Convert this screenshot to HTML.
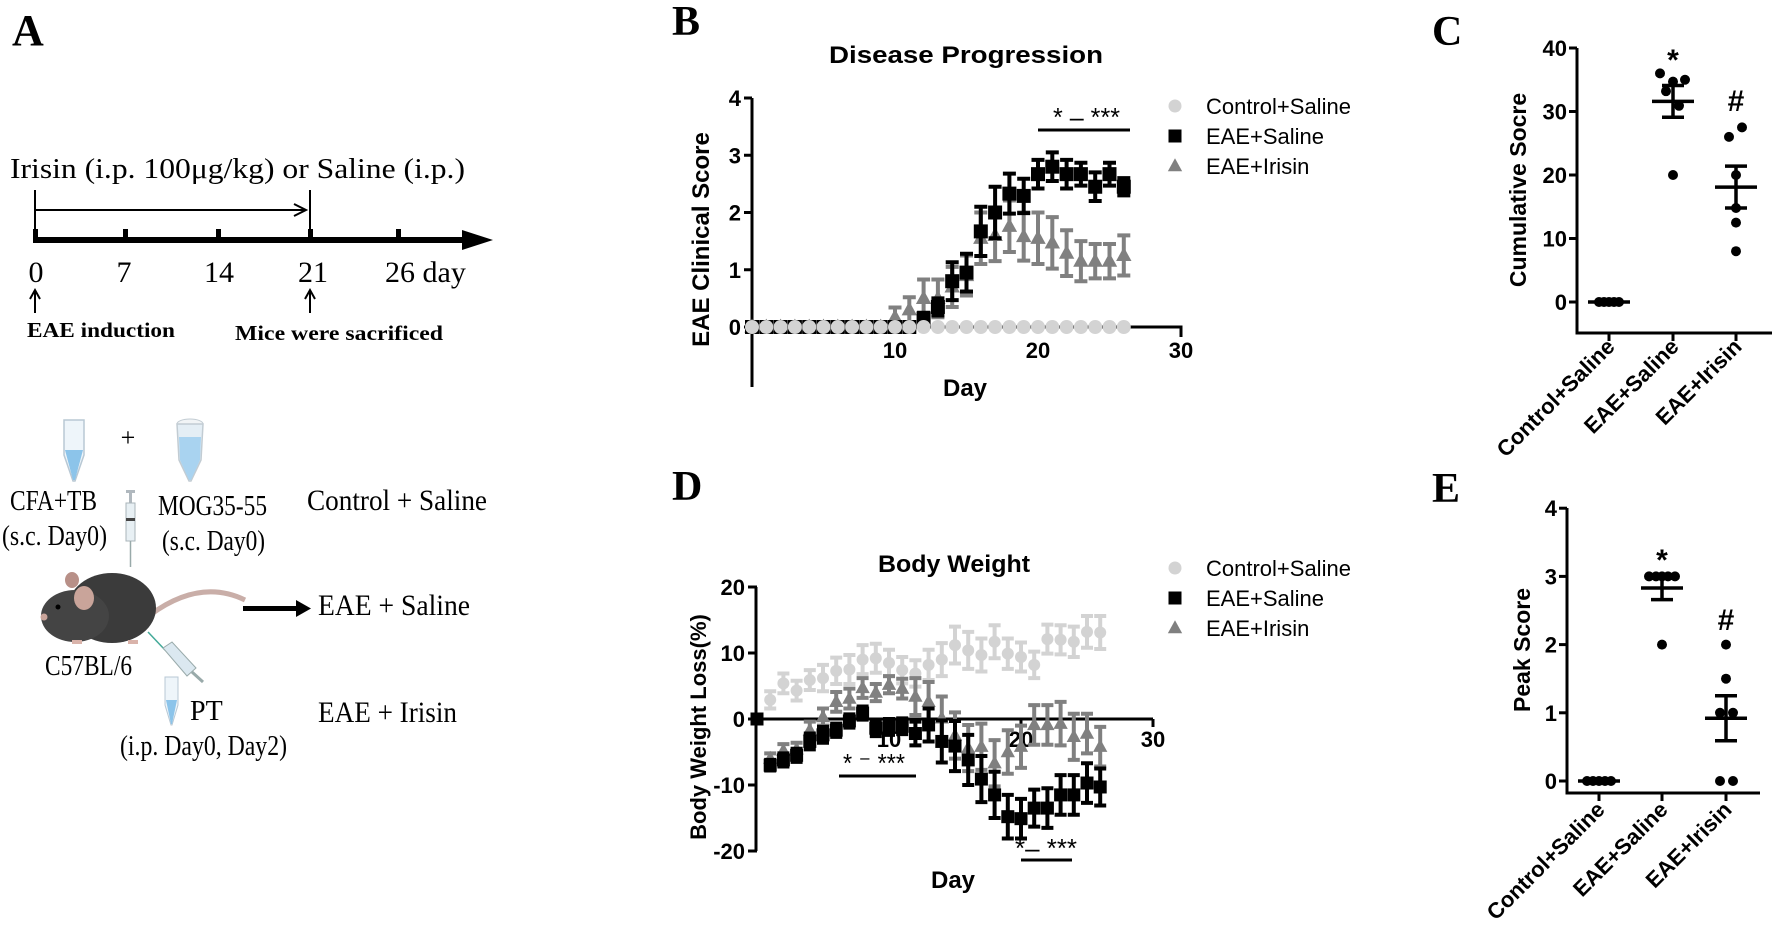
<!DOCTYPE html>
<html><head><meta charset="utf-8"><style>
html,body{margin:0;padding:0;background:#fff;}
svg{display:block;}
.serif{font-family:"Liberation Serif",serif;}
.sans{font-family:"Liberation Sans",sans-serif;}
</style></head><body>
<svg id="fig" width="1772" height="927" viewBox="0 0 1772 927" xmlns="http://www.w3.org/2000/svg">
<rect width="1772" height="927" fill="#fff"/>
<!-- Panel A -->
<g id="panelA" class="serif">
  <text x="12" y="45" font-size="44" font-weight="bold">A</text>
  <text x="10" y="178" font-size="29" textLength="455" lengthAdjust="spacingAndGlyphs">Irisin (i.p. 100μg/kg) or Saline (i.p.)</text>
  <g stroke="#000" stroke-width="2" fill="none">
    <line x1="35" y1="190" x2="35" y2="230"/><line x1="310" y1="190" x2="310" y2="235"/>
    <line x1="35" y1="210" x2="305" y2="210"/><path d="M294,204 L306,210 L294,216"/>
  </g>
  <g>
    <rect x="33" y="237" width="440" height="6" fill="#000"/>
    <path d="M462,230 L493,240 L462,250 Z" fill="#000"/>
    <rect x="33" y="229" width="5" height="10" fill="#000"/><rect x="123" y="229" width="5" height="10" fill="#000"/>
    <rect x="216" y="229" width="5" height="10" fill="#000"/><rect x="308" y="229" width="5" height="10" fill="#000"/>
    <rect x="396" y="229" width="5" height="10" fill="#000"/>
  </g>
  <g font-size="30">
    <text x="36" y="282" text-anchor="middle">0</text><text x="124" y="282" text-anchor="middle">7</text>
    <text x="219" y="282" text-anchor="middle">14</text><text x="313" y="282" text-anchor="middle">21</text>
    <text x="385" y="282">26 day</text>
  </g>
  <g stroke="#000" stroke-width="2" fill="none">
    <line x1="35" y1="292" x2="35" y2="313"/><path d="M30,299 L35,290 L40,299"/>
    <line x1="310" y1="292" x2="310" y2="313"/><path d="M305,299 L310,290 L315,299"/>
  </g>
  <text x="27" y="337" font-size="21" font-weight="bold" textLength="148" lengthAdjust="spacingAndGlyphs">EAE induction</text>
  <text x="235" y="340" font-size="21" font-weight="bold" textLength="208" lengthAdjust="spacingAndGlyphs">Mice were sacrificed</text>
  <g>
    <path d="M64,420 L84,420 L84,455 L75,481 L73,481 L64,455 Z" fill="#eef5fa" stroke="#b8c8d4" stroke-width="1.5"/>
    <path d="M65,450 L83,450 L75,480 L73,480 Z" fill="#8cc4ea"/>
  </g>
  <text x="128" y="446" font-size="26" text-anchor="middle">+</text>
  <g>
    <ellipse cx="190" cy="424" rx="13" ry="5" fill="#f1f4f6" stroke="#c2ccd3"/>
    <path d="M177,424 L203,424 L201,460 L191,481 L189,481 L179,460 Z" fill="#e4eef5" stroke="#c2ccd3" stroke-width="1.5"/>
    <path d="M179,437 L201,437 L200,460 L191,480 L189,480 L180,460 Z" fill="#a9d3f0"/>
  </g>
  <g>
    <rect x="126" y="490" width="9" height="3" fill="#b0b8be"/><rect x="129" y="493" width="3" height="10" fill="#b0b8be"/>
    <rect x="126" y="503" width="9" height="38" fill="#e8f0f4" stroke="#aab4ba"/>
    <rect x="126" y="518" width="9" height="3" fill="#444"/>
    <line x1="130.5" y1="541" x2="130.5" y2="567" stroke="#9aa" stroke-width="1.5"/>
  </g>
  <g font-size="28">
    <text x="10" y="510" textLength="87" lengthAdjust="spacingAndGlyphs">CFA+TB</text>
    <text x="2" y="545" textLength="105" lengthAdjust="spacingAndGlyphs">(s.c. Day0)</text>
    <text x="158" y="515" textLength="109" lengthAdjust="spacingAndGlyphs">MOG35-55</text>
    <text x="162" y="550" textLength="103" lengthAdjust="spacingAndGlyphs">(s.c. Day0)</text>
  </g>
  <text x="307" y="510" font-size="30" textLength="180" lengthAdjust="spacingAndGlyphs">Control + Saline</text>
  <g>
    <path d="M150,615 Q200,578 245,600" stroke="#c9aea8" stroke-width="5" fill="none"/>
    <ellipse cx="112" cy="608" rx="44" ry="35" fill="#3b3b3b"/>
    <ellipse cx="75" cy="616" rx="34" ry="26" fill="#444"/>
    <ellipse cx="84" cy="598" rx="10" ry="12" fill="#c9a49a"/>
    <ellipse cx="72" cy="580" rx="7" ry="8" fill="#b89088"/>
    <circle cx="58" cy="607" r="2.5" fill="#000"/>
    <circle cx="44" cy="617" r="3.5" fill="#c9a49a"/>
    <rect x="72" y="640" width="10" height="4" fill="#d9b3aa"/><rect x="128" y="640" width="10" height="4" fill="#d9b3aa"/>
  </g>
  <g>
    <rect x="243" y="606" width="55" height="5" fill="#000"/><path d="M296,600 L311,608.5 L296,617 Z" fill="#000"/>
  </g>
  <text x="318" y="615" font-size="30" textLength="152" lengthAdjust="spacingAndGlyphs">EAE + Saline</text>
  <text x="45" y="675" font-size="28" textLength="87" lengthAdjust="spacingAndGlyphs">C57BL/6</text>
  <g>
    <line x1="148" y1="632" x2="165" y2="650" stroke="#4a9" stroke-width="1.5"/>
    <path d="M163,648 L172,642 L196,668 L187,676 Z" fill="#dbe8f0" stroke="#9aa"/>
    <line x1="192" y1="672" x2="203" y2="682" stroke="#9aa" stroke-width="3"/>
  </g>
  <g>
    <path d="M165,677 L178,677 L178,705 L172,725 L171,725 L165,705 Z" fill="#eef5fa" stroke="#b8c8d4"/>
    <path d="M166,700 L177,700 L172,724 L171,724 Z" fill="#8cc4ea"/>
  </g>
  <text x="190" y="720" font-size="28">PT</text>
  <text x="120" y="755" font-size="28" textLength="167" lengthAdjust="spacingAndGlyphs">(i.p. Day0, Day2)</text>
  <text x="318" y="722" font-size="30" textLength="139" lengthAdjust="spacingAndGlyphs">EAE + Irisin</text>
</g>
<g id="charts"></g>
</svg>
<script>
// ---------- Panel B data ----------
const bDays = [0,1,2,3,4,5,6,7,8,9,10,11,12,13,14,15,16,17,18,19,20,21,22,23,24,25,26];
const bControlMean = [0,0,0,0,0,0,0,0,0,0,0,0,0,0,0,0,0,0,0,0,0,0,0,0,0,0,0];
const bSalineMean = [0,0,0,0,0,0,0,0,0,0,0,0,0.15,0.35,0.8,0.95,1.67,2.0,2.33,2.29,2.67,2.8,2.67,2.67,2.45,2.67,2.45];
const bSalineSem = [0,0,0,0,0,0,0,0,0,0,0,0,0.1,0.15,0.33,0.33,0.43,0.45,0.35,0.3,0.25,0.25,0.25,0.2,0.25,0.2,0.15];
const bIrisinMean = [0,0,0,0,0,0,0,0,0,0,0.17,0.3,0.5,0.5,0.7,0.9,1.55,1.6,1.76,1.58,1.55,1.47,1.29,1.15,1.15,1.15,1.25];
const bIrisinSem = [0,0,0,0,0,0,0,0,0,0,0.17,0.22,0.33,0.33,0.35,0.35,0.45,0.45,0.45,0.42,0.45,0.45,0.4,0.35,0.3,0.3,0.35];
const bYTicks = [0,1,2,3,4];
const bXTicks = [10,20,30];
// ---------- Panel D data ----------
const dControlDays = [1,2,3,4,5,6,7,8,9,10,11,12,13,14,15,16,17,18,19,20,21,22,23,24,25,26];
const dControlMean = [2.9,5.4,4.3,5.9,6.2,7.3,7.5,9.0,9.2,8.5,7.4,6.9,8.2,9.0,11.2,10.4,9.7,11.7,9.9,9.4,8.2,12.1,12.0,11.7,13.2,13.1];
const dControlSem = [1.3,1.5,1.5,1.5,2,2,2.2,2.2,2.2,2,2,2,2.3,2.5,2.8,2.8,2.5,2.5,2.3,2.2,2,2.2,2.2,2.3,2.4,2.5];
const dSalineDays = [0,1,2,3,4,5,6,7,8,9,10,11,12,13,14,15,16,17,18,19,20,21,22,23,24,25,26];
const dSalineMean = [0,-7.0,-6.2,-5.5,-3.4,-2.4,-1.7,-0.3,0.9,-1.4,-1.2,-1.1,-2.2,-0.9,-3.4,-4.1,-6.2,-9.1,-11.5,-14.8,-15.1,-13.5,-13.5,-11.5,-11.5,-9.7,-10.3];
const dSalineSem = [0,0.8,1,1,1.2,1.2,1,1,1,1.2,1.2,1.2,1.8,2.5,3.2,3.8,3.8,3.5,3.5,3.3,3,2.8,3,3,3,3,2.8];
const dIrisinDays = [1,2,3,4,5,6,7,8,9,10,11,12,13,14,15,16,17,18,19,20,21,22,23,24,25,26];
const dIrisinMean = [-6.0,-4.8,-4.6,-1.7,0.3,2.6,3.1,4.7,4.0,5.2,4.6,3.4,2.6,0.1,-2.5,-4.4,-4.2,-6.7,-5.0,-4.2,-0.9,-0.9,-0.7,-2.7,-2.2,-4.2];
const dIrisinSem = [0.8,1,1,1.3,1.3,1.5,1.5,1.5,1.3,1.3,1.5,2.8,3,3.3,3.5,3.5,3.5,3.5,3.3,3.2,3,3,3.3,3.5,3,3];
const dYTicks = [-20,-10,0,10,20];
const dXTicks = [10,20,30];
// ---------- Panel C data ----------
const groups = ["Control+Saline","EAE+Saline","EAE+Irisin"];
const cControl = [0,0,0,0,0];
const cSaline = [36,34.7,35,33.2,30.9,20];
const cIrisin = [26,27.5,20,14.8,12.5,8];
const cMean = [0,31.6,18.1];
const cSem = [0,2.5,3.3];
const cYTicks = [0,10,20,30,40];
// ---------- Panel E data ----------
const eControl = [0,0,0,0,0];
const eSaline = [3,3,3,3,3,2];
const eIrisin = [2,1.5,1,1,0,0];
const eMean = [0,2.83,0.92];
const eSem = [0,0.17,0.33];
const eYTicks = [0,1,2,3,4];

const NS="http://www.w3.org/2000/svg";
const root=document.getElementById('charts');
function mk(tag,attrs,parent){const e=document.createElementNS(NS,tag);for(const k in attrs)e.setAttribute(k,attrs[k]);(parent||root).appendChild(e);return e;}
function txt(parent,x,y,s,size,anchor,weight,extra){const t=mk('text',Object.assign({x:x,y:y,'font-size':size,'text-anchor':anchor||'start','font-weight':weight||'bold','font-family':'"Liberation Sans",sans-serif'},extra||{}),parent);t.textContent=s;return t;}

const xB=d=>752+14.3*d, yB=v=>327-57.25*v;
const xD=d=>757+13.2*d, yD=v=>719-6.6*v;
const yC=v=>302-6.35*v, yE=v=>781-68.2*v;
const catC=[1609,1673,1736], catE=[1599,1662,1726];

function errBar(g,x,y1,y2,cw,color,sw){
  const e=mk('path',{d:`M${x},${y1}V${y2}M${x-cw/2},${y1}H${x+cw/2}M${x-cw/2},${y2}H${x+cw/2}`,stroke:color,'stroke-width':sw,fill:'none'},g);
  
  
}
function marker(g,shape,x,y,s,color){
  let e;
  if(shape==='circle') e=mk('circle',{cx:x,cy:y,r:s/2,fill:color},g);
  else if(shape==='square') e=mk('rect',{x:x-s/2,y:y-s/2,width:s,height:s,fill:color},g);
  else e=mk('path',{d:`M${x},${y-s*0.6}L${x+s*0.55},${y+s*0.4}L${x-s*0.55},${y+s*0.4}Z`,fill:color},g);
  
  
}
function legend(g,x,y0,labels){
  const shapes=['circle','square','tri'], cols=['#d3d3d3','#000','#808080'];
  labels.forEach((l,i)=>{
    const y=y0+i*30;
    const it=mk('g',{},g);
    
    
    marker(it,shapes[i],x,y,13,cols[i]);
    txt(it,x+31,y+8,l,22,'start','normal');
  });
}

// ---------- Panel B ----------
const gB=mk('g',{});


{
  const lb=mk('text',{x:672,y:35,'font-size':42,'font-weight':'bold','font-family':'"Liberation Serif",serif'},gB);lb.textContent='B';
  
  
  const t=txt(gB,829,63,'Disease Progression',24,'start','bold',{textLength:274,lengthAdjust:'spacingAndGlyphs'});
  
  
  const ax=mk('path',{d:`M${xB(0)},${yB(4)}V387M${xB(0)},${yB(0)}H${xB(30)}V${yB(0)+10}`,stroke:'#000','stroke-width':3,fill:'none'},gB);
  
  
  bYTicks.forEach(v=>{const k=mk('line',{x1:xB(0)-8,x2:xB(0),y1:yB(v),y2:yB(v),stroke:'#000','stroke-width':3},gB);
    
    
    txt(gB,xB(0)-11,yB(v)+8,String(v),22,'end');});
  bXTicks.forEach(v=>{const k=mk('line',{x1:xB(v),x2:xB(v),y1:yB(0),y2:yB(0)+6,stroke:'#000','stroke-width':3},gB);
    
    
    txt(gB,xB(v),358,String(v),22,'middle');});
  const yl=txt(gB,0,0,'EAE Clinical Score',24,'middle','bold',{transform:`translate(709,${(137+342)/2}) rotate(-90)`});
  
  
  const xl=txt(gB,965,396,'Day',24,'middle');
  
  
  const sI=mk('g',{},gB);
  
  
  bDays.forEach((d,i)=>{if(bIrisinSem[i]>0)errBar(sI,xB(d),yB(bIrisinMean[i]+bIrisinSem[i]),yB(bIrisinMean[i]-bIrisinSem[i]),13,'#808080',4);marker(sI,'tri',xB(d),yB(bIrisinMean[i]),14,'#808080');});
  const sS=mk('g',{},gB);
  
  
  bDays.forEach((d,i)=>{if(bSalineSem[i]>0)errBar(sS,xB(d),yB(bSalineMean[i]+bSalineSem[i]),yB(bSalineMean[i]-bSalineSem[i]),13,'#000',4);marker(sS,'square',xB(d),yB(bSalineMean[i]),14,'#000');});
  const sC=mk('g',{},gB);
  
  
  bDays.forEach((d,i)=>marker(sC,'circle',xB(d),yB(bControlMean[i]),14,'#d3d3d3'));
  const sig=mk('g',{},gB);
  
  
  mk('line',{x1:1038,x2:1130,y1:130,y2:130,stroke:'#000','stroke-width':3},sig);
  txt(sig,1053,126,'* – ***',26,'start','normal',{textLength:67,lengthAdjust:'spacingAndGlyphs'});
  const lg=mk('g',{},gB);
  
  
  legend(lg,1175,106,groups);
}
// ---------- Panel D ----------
const gD=mk('g',{});


{
  const lb=mk('text',{x:672,y:500,'font-size':42,'font-weight':'bold','font-family':'"Liberation Serif",serif'},gD);lb.textContent='D';
  
  
  const t=txt(gD,878,572,'Body Weight',24,'start','bold',{textLength:152,lengthAdjust:'spacingAndGlyphs'});
  
  
  const ax=mk('path',{d:`M${xD(0)-1},${yD(20)}V${yD(-20)}M${xD(0)-1},${yD(0)}H${xD(30)}`,stroke:'#000','stroke-width':3,fill:'none'},gD);
  
  
  dYTicks.forEach(v=>{const k=mk('line',{x1:xD(0)-9,x2:xD(0),y1:yD(v),y2:yD(v),stroke:'#000','stroke-width':3},gD);
    
    
    txt(gD,xD(0)-12,yD(v)+8,String(v),22,'end');});
  dXTicks.forEach(v=>{const k=mk('line',{x1:xD(v),x2:xD(v),y1:yD(0),y2:yD(0)+8,stroke:'#000','stroke-width':3},gD);
    
    
    txt(gD,xD(v),747,String(v),22,'middle');});
  const yl=txt(gD,0,0,'Body Weight Loss(%)',22,'middle','bold',{transform:`translate(706,727) rotate(-90)`});
  
  
  const xl=txt(gD,953,888,'Day',24,'middle');
  
  
  const sC=mk('g',{},gD);
  
  
  dControlDays.forEach((d,i)=>{errBar(sC,xD(d),yD(dControlMean[i]+dControlSem[i]),yD(dControlMean[i]-dControlSem[i]),12,'#d3d3d3',4);marker(sC,'circle',xD(d),yD(dControlMean[i]),12,'#d3d3d3');});
  const sI=mk('g',{},gD);
  
  
  dIrisinDays.forEach((d,i)=>{errBar(sI,xD(d),yD(dIrisinMean[i]+dIrisinSem[i]),yD(dIrisinMean[i]-dIrisinSem[i]),12,'#808080',4);marker(sI,'tri',xD(d),yD(dIrisinMean[i]),13,'#808080');});
  const sS=mk('g',{},gD);
  
  
  dSalineDays.forEach((d,i)=>{if(dSalineSem[i]>0)errBar(sS,xD(d),yD(dSalineMean[i]+dSalineSem[i]),yD(dSalineMean[i]-dSalineSem[i]),12,'#000',4);marker(sS,'square',xD(d),yD(dSalineMean[i]),13,'#000');});
  const sig=mk('g',{},gD);
  
  
  mk('line',{x1:839,x2:916,y1:776,y2:776,stroke:'#000','stroke-width':3},sig);
  txt(sig,843,772,'* ⁻ ***',26,'start','normal',{textLength:62,lengthAdjust:'spacingAndGlyphs'});
  mk('line',{x1:1021,x2:1072,y1:860,y2:860,stroke:'#000','stroke-width':3},sig);
  txt(sig,1015,857,'*– ***',26,'start','normal',{textLength:62,lengthAdjust:'spacingAndGlyphs'});
  const lg=mk('g',{},gD);
  
  
  legend(lg,1175,568,groups);
}
// ---------- Scatter panels ----------
function scatter(name,label,lx,ly,axX,yTop,yBottomAxis,xEnd,yf,cats,ticks,title,titleX,titleY,sets,means,sems,offsets,marks,labelBaseY){
  const g=mk('g',{});
  
  
  const lb=mk('text',{x:lx,y:ly,'font-size':42,'font-weight':'bold','font-family':'"Liberation Serif",serif'},g);lb.textContent=label;
  
  
  const ax=mk('path',{d:`M${axX},${yTop}V${yBottomAxis}H${xEnd}`,stroke:'#000','stroke-width':3,fill:'none'},g);
  
  
  ticks.forEach(v=>{const k=mk('line',{x1:axX-8,x2:axX,y1:yf(v),y2:yf(v),stroke:'#000','stroke-width':3},g);
    
    
    txt(g,axX-10,yf(v)+8,String(v),22,'end');});
  cats.forEach((cx,i)=>{const k=mk('line',{x1:cx,x2:cx,y1:yBottomAxis,y2:yBottomAxis+8,stroke:'#000','stroke-width':3},g);
    
    
    const t=txt(g,0,0,groups[i],22,'end','bold',{transform:`translate(${cx+7},${labelBaseY}) rotate(-45)`});
    
    });
  const yl=txt(g,0,0,title,23,'middle','bold',{transform:`translate(${titleX},${titleY}) rotate(-90)`});
  
  
  sets.forEach((vals,i)=>{
    const s=mk('g',{},g);
    
    
    vals.forEach((v,j)=>marker(s,'circle',cats[i]+offsets[i][j],yf(v),10,'#000'));
    const m=mk('line',{x1:cats[i]-21,x2:cats[i]+21,y1:yf(means[i]),y2:yf(means[i]),stroke:'#000','stroke-width':3.5},s);
    
    
    if(sems[i]>0)errBar(s,cats[i],yf(means[i]+sems[i]),yf(means[i]-sems[i]),22,'#000',3.5);
  });
  marks.forEach(mm=>{const t=txt(g,mm[0],mm[1],mm[2],30,'middle','bold');
    
    });
}
scatter('panel-c-cumulative-score','C',1432,45,1577,48,333,1772,yC,catC,cYTicks,'Cumulative Socre',1526,190,
  [cControl,cSaline,cIrisin],cMean,cSem,
  [[-10,-5,0,5,10],[-13,0,12,-7,6,0],[-7,6,0,0,0,0]],
  [[1673,70,'*'],[1736,111,'#']],348);
scatter('panel-e-peak-score','E',1432,502,1567,508,793,1760,yE,catE,eYTicks,'Peak Score',1530,650,
  [eControl,eSaline,eIrisin],eMean,eSem,
  [[-12,-6,0,6,12],[-13,-6,0,6,13,0],[0,0,-6,7,-6,7]],
  [[1662,570,'*'],[1726,630,'#']],811);
</script>
</body></html>
